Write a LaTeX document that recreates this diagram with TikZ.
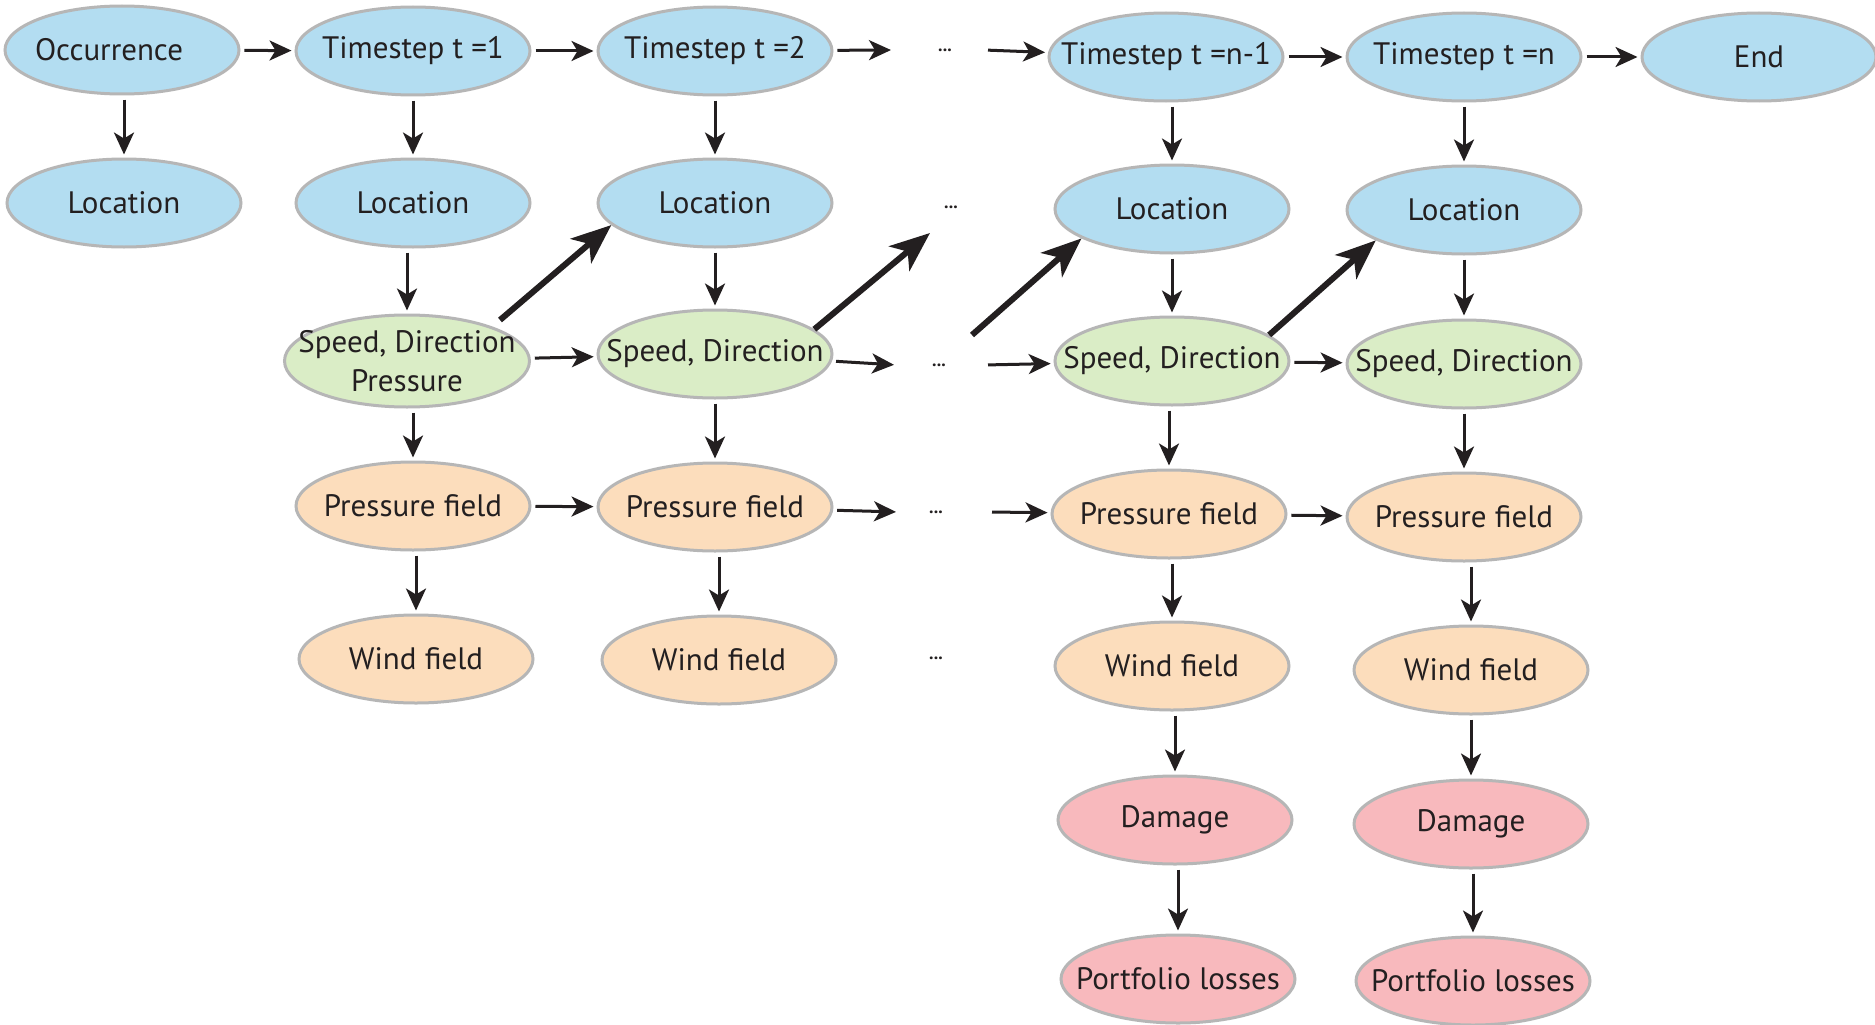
\documentclass[tikz,border=0pt]{standalone}
\usepackage{fontspec}
\setmainfont{PT Sans}
\usetikzlibrary{shapes.geometric,arrows.meta}

\definecolor{locblue}{RGB}{179,221,241}
\definecolor{spdgreen}{RGB}{218,237,198}
\definecolor{fldorange}{RGB}{252,221,188}
\definecolor{dmgpink}{RGB}{248,185,189}
\definecolor{rimgray}{RGB}{182,182,182}
\definecolor{ink}{RGB}{35,31,32}

% zero-width label so that the ellipse size is set only by its minimum size
\newcommand\bubtext[1]{\makebox[0pt]{#1}}

\begin{document}
\begin{tikzpicture}[x=1pt,y=-1pt,
  bub/.style={ellipse, draw=rimgray, line width=3pt, minimum width=234pt,
    minimum height=88pt, inner sep=0pt, text=ink,
    font=\fontsize{31}{39}\selectfont},
  bubblue/.style={bub, fill=locblue},
  bubgreen/.style={bub, fill=spdgreen},
  buborange/.style={bub, fill=fldorange},
  bubpink/.style={bub, fill=dmgpink},
  arr/.style={draw=ink, line width=3pt,
    -{Stealth[length=22pt,width=20pt,inset=6pt]},
    shorten <=4pt, shorten >=3pt},
  bigarr/.style={draw=ink, line width=6pt,
    -{Stealth[length=40pt,width=32pt,inset=11pt]}},
  dotsnode/.style={text=ink, inner sep=0pt, font=\fontsize{18}{18}\selectfont\bfseries}
]
\useasboundingbox[fill=white] (0,0) rectangle (1875,1025);

% ---- row 1: occurrence and time steps
\node[bubblue] (occ) at (122,50)  {\bubtext{\hspace*{-26pt}Occurrence}};
\node[bubblue] (t1)  at (413,51)  {\bubtext{Timestep t =1}};
\node[bubblue] (t2)  at (715,51)  {\bubtext{Timestep t =2}};
\node[dotsnode] (d1) at (945,50)  {...};
\node[bubblue] (tn1) at (1166,57) {\bubtext{Timestep t =n-1}};
\node[bubblue] (tn)  at (1464,57) {\bubtext{Timestep t =n}};
\node[bubblue] (end) at (1759,57) {\bubtext{End}};

% ---- row 2: location
\node[bubblue] (l1)  at (124,203)  {\bubtext{Location}};
\node[bubblue] (l2)  at (413,203)  {\bubtext{Location}};
\node[bubblue] (l3)  at (715,203)  {\bubtext{Location}};
\node[dotsnode] (d2) at (951,207)  {...};
\node[bubblue] (ln1) at (1172,209) {\bubtext{Location}};
\node[bubblue] (ln)  at (1464,210) {\bubtext{Location}};

% ---- row 3: speed and direction
\node[bubgreen, minimum width=245pt, minimum height=92pt,
  label={[text=ink, font=\fontsize{31}{39}\selectfont, align=center]center:{Speed, Direction\\Pressure}}]
  (s1) at (407,361) {};
\node[bubgreen] (s2)  at (715,354)  {\bubtext{Speed, Direction}};
\node[dotsnode] (d3)  at (939,365)  {...};
\node[bubgreen] (sn1) at (1172,361) {\bubtext{Speed, Direction}};
\node[bubgreen] (sn)  at (1464,364) {\bubtext{Speed, Direction}};

% ---- row 4: pressure field
\node[buborange] (p1)  at (413,506)  {\bubtext{Pressure field}};
\node[buborange] (p2)  at (715,507)  {\bubtext{Pressure field}};
\node[dotsnode]  (d4)  at (936,512)  {...};
\node[buborange] (pn1) at (1169,514) {\bubtext{Pressure field}};
\node[buborange] (pn)  at (1464,517) {\bubtext{Pressure field}};

% ---- row 5: wind field
\node[buborange] (w1)  at (416,659)  {\bubtext{Wind field}};
\node[buborange] (w2)  at (719,660)  {\bubtext{Wind field}};
\node[dotsnode]  (d5)  at (936,658)  {...};
\node[buborange] (wn1) at (1172,666) {\bubtext{Wind field}};
\node[buborange] (wn)  at (1471,670) {\bubtext{Wind field}};

% ---- rows 6 and 7: damage and losses
\node[bubpink] (dn1)  at (1175,820) {\bubtext{Damage}};
\node[bubpink] (dn)   at (1471,824) {\bubtext{Damage}};
\node[bubpink] (pln1) at (1178,979) {\bubtext{Portfolio losses}};
\node[bubpink] (pln)  at (1473,981) {\bubtext{Portfolio losses}};

% ---- horizontal links
\draw[arr] (occ) -- (t1);
\draw[arr] (t1) -- (t2);
\draw[arr] (t2) -- ([xshift=-51pt]d1.center);
\draw[arr] ([xshift=39pt]d1.center) -- (tn1);
\draw[arr] (tn1) -- (tn);
\draw[arr] (tn) -- (end);

\draw[arr] (s1) -- (s2);
\draw[arr] (s2) -- ([xshift=-42pt]d3.center);
\draw[arr] ([xshift=45pt]d3.center) -- (sn1);
\draw[arr] (sn1) -- (sn);

\draw[arr] (p1) -- (p2);
\draw[arr] (p2) -- ([xshift=-37pt]d4.center);
\draw[arr] ([xshift=52pt]d4.center) -- (pn1);
\draw[arr] (pn1) -- (pn);

% ---- vertical links
\foreach \a/\b in {occ/l1, t1/l2, t2/l3, tn1/ln1, tn/ln,
                   l2/s1, l3/s2, ln1/sn1, ln/sn,
                   s1/p1, s2/p2, sn1/pn1, sn/pn,
                   p1/w1, p2/w2, pn1/wn1, pn/wn,
                   wn1/dn1, wn/dn, dn1/pln1, dn/pln}
  \draw[arr] (\a.south -| \b.north) -- (\b.north);

% ---- speed and direction update the next location
\draw[bigarr] ([shift={(93,-41)}]s1.center) -- (l3.192);
\draw[bigarr] (s2.14) -- ([shift={(-21,26)}]d2.center);
\draw[bigarr] ([shift={(33,-30)}]d3.center) -- (ln1.198);
\draw[bigarr] (sn1.15) -- (ln.199);
\end{tikzpicture}
\end{document}
